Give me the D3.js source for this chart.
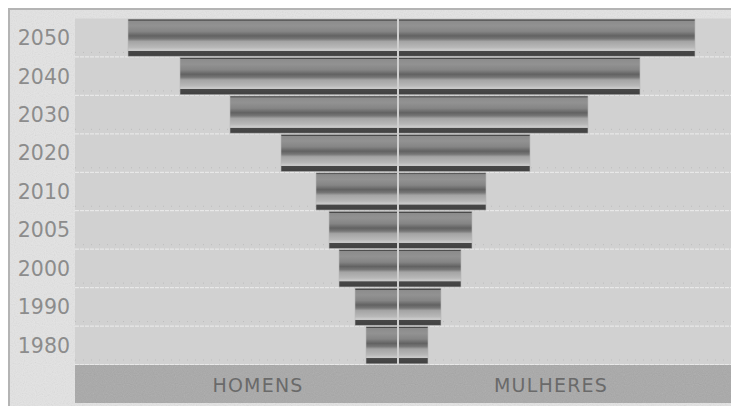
<!DOCTYPE html>
<html>
<head>
<meta charset="utf-8">
<script src="https://cdn.jsdelivr.net/npm/d3@7"></script>
<style>
  html, body { margin: 0; padding: 0; background: #ffffff; }
  svg { display: block; }
</style>
</head>
<body>
<svg id="chart" width="731" height="406"></svg>
<script>
// Population pyramid by year: men on the left, women on the right
const years = ["2050", "2040", "2030", "2020", "2010", "2005", "2000", "1990", "1980"];
const homens = [270, 218, 168, 117, 82, 69, 59, 43, 32];
const mulheres = [297, 242, 190, 132, 88, 74, 63, 43, 30];
const groupLabels = ["HOMENS", "MULHERES"];

const W = 731, H = 406;
const frame = { left: 10, top: 10, bottom: 406 };
const plot = { left: 75, right: 731, top: 18.5, bottom: 364.5, center: 398 };

const svg = d3.select("#chart");
const defs = svg.append("defs");

// Vertical shading that gives each bar its rounded, tube-like look
const grad = defs.append("linearGradient")
  .attr("id", "barShade").attr("x1", 0).attr("y1", 0).attr("x2", 0).attr("y2", 1);
[
  [0.00, "#4a4a4a"], [0.035, "#4a4a4a"], [0.045, "#8c8c8c"],
  [0.18, "#929292"], [0.33, "#858585"], [0.45, "#626262"],
  [0.53, "#767676"], [0.60, "#a4a4a4"], [0.76, "#b8b8b8"],
  [0.815, "#c8c8c8"], [0.845, "#c8c8c8"], [0.855, "#484848"],
  [0.97, "#424242"], [1.0, "#666666"]
].forEach(([o, c]) => grad.append("stop").attr("offset", o).attr("stop-color", c));

// Fine grain used on the frame panels
const grain = defs.append("filter").attr("id", "grain")
  .attr("x", 0).attr("y", 0).attr("width", 1).attr("height", 1);
grain.append("feTurbulence").attr("type", "fractalNoise")
  .attr("baseFrequency", 0.9).attr("numOctaves", 1).attr("seed", 4).attr("result", "n");
grain.append("feColorMatrix").attr("in", "n").attr("type", "saturate").attr("values", 0).attr("result", "g");
const ct = grain.append("feComponentTransfer").attr("in", "g").attr("result", "ga");
ct.append("feFuncA").attr("type", "table").attr("tableValues", "0 0.22");
grain.append("feComposite").attr("in", "ga").attr("in2", "SourceGraphic").attr("operator", "in");

// Frame: outer border, light surround, plot background
svg.append("rect").attr("x", 8).attr("y", 8).attr("width", W - 8).attr("height", H - 8)
  .attr("fill", "#b4b4b4");
svg.append("rect").attr("x", frame.left).attr("y", frame.top)
  .attr("width", W - frame.left).attr("height", frame.bottom - frame.top)
  .attr("fill", "#e4e4e4");
svg.append("rect").attr("x", frame.left).attr("y", frame.top)
  .attr("width", W - frame.left).attr("height", frame.bottom - frame.top)
  .attr("fill", "#888").attr("filter", "url(#grain)");
svg.append("rect").attr("x", plot.left).attr("y", plot.top)
  .attr("width", plot.right - plot.left).attr("height", plot.bottom - plot.top)
  .attr("fill", "#d1d1d1");

// Scales
const y = d3.scaleBand().domain(years).range([plot.top, plot.bottom]).paddingInner(0.03).paddingOuter(0.015);
const step = y.step();
const xL = d3.scaleLinear().domain([0, 323]).range([plot.center, plot.left]);
const xR = d3.scaleLinear().domain([0, 333]).range([plot.center, plot.right]);

// Row separators: faint dotted line plus a light dashed rule
const bounds = years.map((d, i) => plot.top + step * (i + 1));
svg.append("g").selectAll("line.dot").data(bounds).join("line")
  .attr("x1", plot.left).attr("x2", plot.right)
  .attr("y1", d => d - 4.5).attr("y2", d => d - 4.5)
  .attr("stroke", "#bdbdbd").attr("stroke-width", 1).attr("stroke-dasharray", "1,7");
svg.append("g").selectAll("line.rule").data(bounds).join("line")
  .attr("x1", plot.left).attr("x2", plot.right)
  .attr("y1", d => d).attr("y2", d => d)
  .attr("stroke", "#e8e8e8").attr("stroke-width", 1.2).attr("stroke-dasharray", "4,1");

// Bars
const rows = years.map((yr, i) => ({ yr, h: homens[i], m: mulheres[i] }));
const bars = svg.append("g");
bars.selectAll("rect.h").data(rows).join("rect")
  .attr("x", d => xL(d.h)).attr("y", d => y(d.yr))
  .attr("width", d => xL(0) - xL(d.h)).attr("height", y.bandwidth())
  .attr("fill", "url(#barShade)").attr("stroke", "#b8b8b8").attr("stroke-width", 0.6);
bars.selectAll("rect.m").data(rows).join("rect")
  .attr("x", xR(0)).attr("y", d => y(d.yr))
  .attr("width", d => xR(d.m) - xR(0)).attr("height", y.bandwidth())
  .attr("fill", "url(#barShade)").attr("stroke", "#b8b8b8").attr("stroke-width", 0.6);

// Centre divider
svg.append("line").attr("x1", plot.center).attr("x2", plot.center)
  .attr("y1", plot.top).attr("y2", plot.bottom)
  .attr("stroke", "#cfcfcf").attr("stroke-width", 2);

// Year labels
svg.append("g").selectAll("text").data(years).join("text")
  .attr("x", 70).attr("y", d => y(d) + y.bandwidth() / 2)
  .attr("dy", "0.36em").attr("text-anchor", "end")
  .attr("font-family", "DejaVu Sans, Verdana, sans-serif").attr("font-size", 20.5)
  .attr("fill", "#8c8c8c").text(d => d);

// Bottom legend band with group names
const bandTop = 365, bandBottom = 403;
svg.append("rect").attr("x", plot.left).attr("y", bandTop)
  .attr("width", plot.right - plot.left).attr("height", bandBottom - bandTop)
  .attr("fill", "#a8a8a8");
svg.append("rect").attr("x", plot.left).attr("y", bandTop)
  .attr("width", plot.right - plot.left).attr("height", bandBottom - bandTop)
  .attr("fill", "#888").attr("filter", "url(#grain)");
const groupX = [258, 551];
svg.append("g").selectAll("text").data(groupLabels).join("text")
  .attr("x", (d, i) => groupX[i]).attr("y", (bandTop + bandBottom) / 2 + 1)
  .attr("dy", "0.36em").attr("text-anchor", "middle")
  .attr("font-family", "DejaVu Sans, Verdana, sans-serif").attr("font-size", 19)
  .attr("letter-spacing", 1.2)
  .attr("fill", "#6a6a6a").text(d => d);
</script>
</body>
</html>
